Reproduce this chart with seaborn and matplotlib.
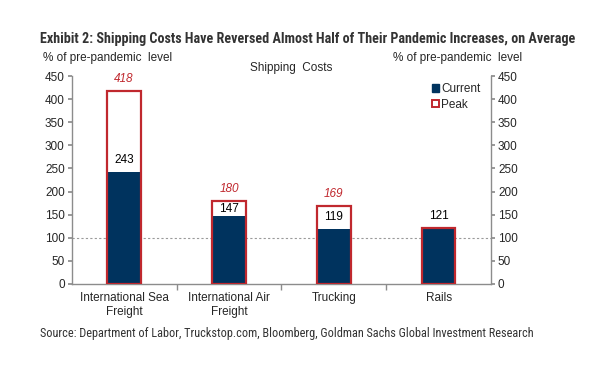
import matplotlib
matplotlib.use("Agg")
import matplotlib.pyplot as plt
import seaborn as sns
import pandas as pd
from matplotlib.patches import Patch

# data
categories = ["International Sea\nFreight", "International Air\nFreight", "Trucking", "Rails"]
current = [243, 147, 119, 121]
peak = [418, 180, 169, 121]
yticks = [0, 50, 100, 150, 200, 250, 300, 350, 400, 450]

navy = "#00335E"
red = "#C0282E"
axis_gray = "#8C8C8C"

sns.set_theme(style="white")
plt.rcParams["font.family"] = ["Liberation Sans", "DejaVu Sans"]

df = pd.DataFrame({"cat": categories, "current": current, "peak": peak})

fig = plt.figure(figsize=(6.13, 3.75), dpi=100)
ax = fig.add_axes([0.117, 0.243, 0.684, 0.554])

# current bars, then peak outlines on top
sns.barplot(data=df, x="cat", y="current", color=navy, width=0.32,
            linewidth=0, saturation=1, ax=ax, zorder=2)
sns.barplot(data=df, x="cat", y="peak", color=red, fill=False, width=0.32,
            linewidth=1.6, saturation=1, ax=ax, zorder=3)

ax.axhline(100, color="#9A9A9A", ls=(0, (2, 2)), lw=0.8, zorder=1)

# value labels
for i, (c, p) in enumerate(zip(current, peak)):
    off = 5 if 0 < p - c < 40 else 8.5
    ax.annotate(str(c), (i, c), xytext=(0, off), textcoords="offset points",
                ha="center", va="center", fontsize=8.5, color="black")
    if p != c:
        ax.annotate(str(p), (i, p), xytext=(0, 8.5), textcoords="offset points",
                    ha="center", va="center", fontsize=8.5, color=red, style="italic")

ax.set_ylim(0, 450)
ax.set_xlim(-0.5, 3.5)
ax.set_yticks(yticks)
ax.set_xlabel("")
ax.set_ylabel("")
ax.tick_params(axis="y", labelsize=8.5, length=3, color=axis_gray, left=True, pad=2)
ax.tick_params(axis="x", labelsize=8.5, length=0, pad=6)
ax.set_xticks([0.5, 1.5, 2.5], minor=True)
ax.tick_params(axis="x", which="minor", length=4, color=axis_gray, bottom=True)

for side in ["left", "bottom", "right"]:
    ax.spines[side].set_color(axis_gray)
    ax.spines[side].set_linewidth(1)
ax.spines["top"].set_visible(False)

ax2 = ax.twinx()
ax2.set_ylim(0, 450)
ax2.set_yticks(yticks)
ax2.tick_params(axis="y", labelsize=8.5, length=3, color=axis_gray, right=True, pad=2)
for side in ["left", "bottom", "right", "top"]:
    ax2.spines[side].set_visible(False)

handles = [Patch(facecolor=navy, edgecolor=navy, label="Current"),
           Patch(facecolor="white", edgecolor=red, linewidth=1.4, label="Peak")]
ax.legend(handles=handles, loc="upper right", bbox_to_anchor=(0.995, 1.005),
          frameon=False, fontsize=8.5, handlelength=0.6, handleheight=0.6,
          handletextpad=0.2, labelspacing=0.3, borderpad=0.2)

# text around the plot
narrow = ["Liberation Sans Narrow", "Roboto Condensed", "DejaVu Sans"]
fig.text(0.066, 0.895, "Exhibit 2: Shipping Costs Have Reversed Almost Half of Their Pandemic Increases, on Average",
         fontsize=10.2, fontweight="bold", color="#333333", family=narrow, va="center")
fig.text(0.070, 0.846, "% of pre-pandemic  level", fontsize=8.5, va="center")
fig.text(0.641, 0.846, "% of pre-pandemic  level", fontsize=8.5, va="center")
fig.text(0.475, 0.819, "Shipping  Costs", fontsize=8.5, va="center", ha="center")
fig.text(0.066, 0.112, "Source: Department of Labor, Truckstop.com, Bloomberg, Goldman Sachs Global Investment Research",
         fontsize=8.8, color="#333333", family=narrow, va="center")

fig.savefig("out.png", dpi=100)
